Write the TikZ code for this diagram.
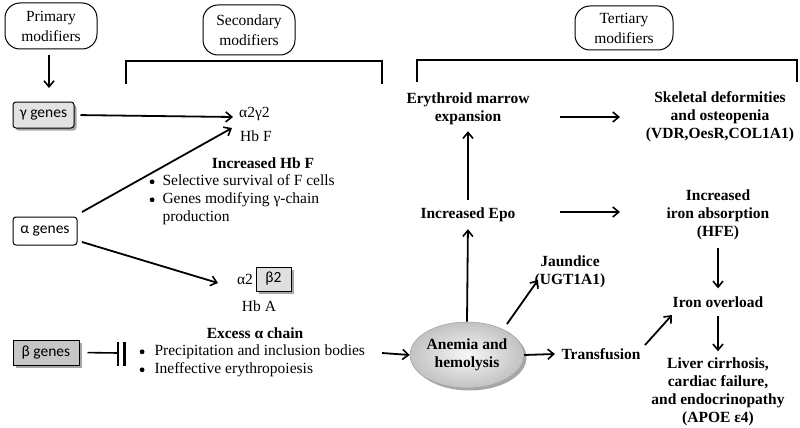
\documentclass[tikz,border=0pt]{standalone}
\usepackage{fontspec}
\setmainfont{Liberation Serif}
\newfontfamily\gfont{Carlito}
\newcommand{\bul}{\tikz[baseline=-4pt]\fill (0,0) circle (2.4pt);}
\usetikzlibrary{arrows.meta,shadows,shapes.geometric}
\begin{document}
\begin{tikzpicture}[x=1pt,y=-1pt,
  modbox/.style={draw, line width=1pt, rounded corners=15pt, align=center,
    font=\fontsize{15.5}{20}\selectfont, fill=white, inner sep=0pt},
  genebox/.style={draw, line width=1pt, rounded corners=3pt,
    font=\gfont\fontsize{15.5}{16}\selectfont, inner sep=0pt},
  gshadow/.style={drop shadow={shadow xshift=2.5pt, shadow yshift=-2.5pt, fill=gray!70, opacity=1}},
  plain/.style={font=\fontsize{15.5}{18}\selectfont, inner sep=0pt},
  bold/.style={font=\bfseries\fontsize{15.5}{18}\selectfont, align=center, inner sep=0pt},
  arr/.style={line width=1.8pt, -{Straight Barb[length=6pt,width=10pt,line width=1.6pt]}},
  brk/.style={line width=2.6pt},
]
\useasboundingbox (0,0) rectangle (800,428);

% modifier boxes
\node[modbox, minimum width=92pt, minimum height=46pt] (prim) at (51,26) {Primary\\modifiers};
\node[modbox, minimum width=92pt, minimum height=50pt] (sec) at (249,30) {Secondary\\modifiers};
\node[modbox, minimum width=98pt, minimum height=44pt] (ter) at (624,28) {Tertiary\\modifiers};

% brackets
\coordinate (b1a) at (126,84); \coordinate (b1b) at (382,84);
\draw[brk] (b1a) |- (254,61) -| (b1b);
\coordinate (b2a) at (417,82); \coordinate (b2b) at (797,82);
\draw[brk] (b2a) |- (600,60) -| (b2b);

% gene boxes
\node[genebox, fill=gray!22, gshadow, minimum width=61pt, minimum height=26pt] (gam) at (43.5,115) {γ genes};
\node[genebox, fill=white, minimum width=64pt, minimum height=28pt] (alp) at (45,231) {α genes};
\node[genebox, rounded corners=0pt, fill=gray!45, gshadow, minimum width=66pt, minimum height=25pt] (bet) at (46,352.5) {β genes};

\coordinate (pe) at (49,88);
\draw[arr, shorten <=6pt] (prim.south -| pe) -- (pe);

% Hb F
\node[plain, anchor=west] (a2g2) at (239,114) {α2γ2};
\node[plain, anchor=west] (hbf) at (240,136) {Hb F};
\node[bold] (inchbf) at (263,163) {Increased Hb F};
\node[plain, anchor=north west, align=left] (bl1) at (149.5,173)
  {\begin{tabular}{@{}l@{\hspace{8pt}}l@{}}\bul&Selective survival of F cells\\\bul&Genes modifying γ-chain\\&production\end{tabular}};

\coordinate (ge) at (233,117);
\draw[arr, shorten <=6pt] (gam.east) -- (ge);
\coordinate (as1) at (82,212);
\coordinate (ae1) at (232,128);
\draw[arr] (as1) -- (ae1);

% Hb A
\node[plain] (a2) at (245,279) {α2};
\node[genebox, rounded corners=0pt, fill=gray!25, gshadow, minimum width=35pt, minimum height=24pt] (b2) at (273.5,279) {β2};
\node[plain] (hba) at (259,306) {Hb A};
\coordinate (as2) at (82,242);
\coordinate (ae2) at (218,283);
\draw[arr] (as2) -- (ae2);

% Excess alpha
\node[bold] (exc) at (255,333) {Excess α chain};
\node[plain, anchor=north west, align=left] (bl2) at (139.5,343)
  {\begin{tabular}{@{}l@{\hspace{10pt}}l@{}}\bul&Precipitation and inclusion bodies\\\bul&Ineffective erythropoiesis\end{tabular}};

% inhibition
\coordinate (inh) at (118,353);
\draw[line width=1.6pt, shorten <=8pt] (bet.east) -- (inh);
\draw[line width=2.6pt] (118,342) -- (118,366) (124.5,342) -- (124.5,366);

% ellipse
\node[ellipse, draw=gray!70, line width=0.6pt, inner color=gray!6, outer color=gray!48,
  gshadow, minimum width=111pt, minimum height=66pt, bold, align=center] (anem) at (467,355)
  {Anemia and\\hemolysis};
\coordinate (ls) at (382,353);
\draw[arr] (ls) -- (anem.west);

% right side texts
\node[bold] (erm) at (468,109) {Erythroid marrow\\expansion};
\node[bold] (skel) at (720,117) {Skeletal deformities\\and osteopenia\\(VDR,OesR,COL1A1)};
\node[bold] (epo) at (468,215) {Increased Epo};
\node[bold] (iron) at (718,215) {Increased\\iron absorption\\(HFE)};
\node[bold] (jaun) at (570,272) {Jaundice\\(UGT1A1)};
\node[bold] (ovl) at (718,302) {Iron overload};
\node[bold] (trans) at (601,354) {Transfusion};
\node[bold] (liver) at (718,391.5) {Liver cirrhosis,\\cardiac failure,\\and endocrinopathy\\(APOE ε4)};

% right arrows
\coordinate (e1s) at (560,117); \coordinate (e1e) at (620,117);
\draw[arr] (e1s) -- (e1e);
\coordinate (e2s) at (560,212); \coordinate (e2e) at (620,212);
\draw[arr] (e2s) -- (e2e);
\draw[arr, shorten <=8pt, shorten >=6pt] (epo.north) -- (erm.south);
\draw[arr, shorten >=7pt] (anem.north) -- (epo.south);
\coordinate (js) at (507,324);
\coordinate (jd) at (538,280);
\draw[arr] (js) -- (jd);
\coordinate (te) at (555,354);
\draw[arr] (anem.east) -- (te);
\coordinate (ts) at (645,345); \coordinate (tt) at (672,315);
\draw[arr] (ts) -- (tt);
\draw[arr, shorten <=8pt, shorten >=8pt] (iron.south) -- (ovl.north);
\draw[arr, shorten <=8pt, shorten >=6pt] (ovl.south) -- (liver.north);
\end{tikzpicture}
\end{document}
